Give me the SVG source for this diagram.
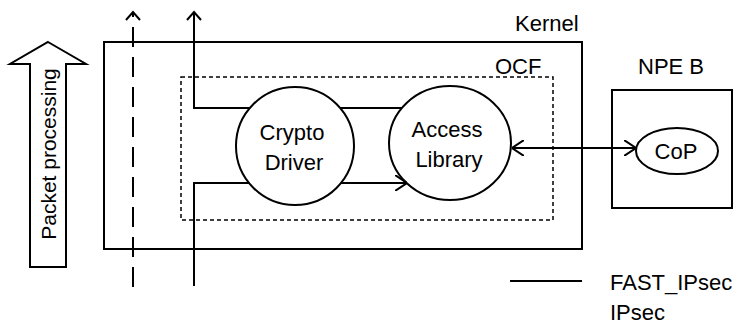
<svg xmlns="http://www.w3.org/2000/svg" width="734" height="326" viewBox="0 0 734 326">
<style>
.s{fill:none;stroke:#000;stroke-width:2}
.n{fill:#fff;stroke:#000;stroke-width:2}
.t{font-family:'Liberation Sans',Arial,sans-serif;font-size:22px;fill:#000}
.m{text-anchor:middle}
</style>
<defs>
<marker id="ah" viewBox="0 0 12 16" refX="12" refY="8" markerWidth="12" markerHeight="16" markerUnits="userSpaceOnUse" orient="auto-start-reverse">
<path d="M0,0 L12,8 L0,16" fill="none" stroke="#000" stroke-width="2"/>
</marker>
</defs>
<rect width="734" height="326" fill="#fff"/>
<g id="packet-processing">
<path d="M48,42 L86,64 L66,64 L66,267 L30,267 L30,64 L10,64 Z" class="n"/>
<text class="t m" transform="translate(56,154) rotate(-90)" style="font-size:21px">Packet processing</text>
</g>
<g id="kernel">
<rect x="104" y="42" width="478" height="207" class="n"/>
<text class="t" x="515" y="31">Kernel</text>
</g>
<g id="ocf">
<rect x="181" y="77" width="372" height="143" fill="none" stroke="#000" stroke-width="1.5" stroke-dasharray="4,3"/>
<text class="t" x="495" y="74">OCF</text>
</g>
<g id="npe-b">
<rect x="612" y="90" width="120" height="118" class="n"/>
<text class="t" x="638" y="74">NPE B</text>
</g>
<g id="crypto-driver">
<circle cx="295" cy="146" r="59" class="n"/>
<text class="t m" x="292" y="140">Crypto</text>
<text class="t m" x="294" y="170">Driver</text>
</g>
<g id="access-library">
<ellipse cx="450" cy="143" rx="61" ry="57" class="n"/>
<text class="t m" x="447" y="137">Access</text>
<text class="t m" x="449" y="167">Library</text>
</g>
<g id="cop">
<ellipse cx="677" cy="151" rx="41" ry="23" class="n"/>
<text class="t m" x="676" y="159">CoP</text>
</g>
<g id="connectors">
<line x1="133" y1="287" x2="133" y2="12" class="s" stroke-dasharray="20,10"/>
<path d="M126,20 L133,12 L140,20" class="s"/>
<path d="M194,286 L194,183 L249,183" class="s"/>
<line x1="341" y1="183" x2="407" y2="183" class="s" marker-end="url(#ah)"/>
<path d="M402,108 L340,108" class="s"/>
<path d="M250,108 L194,108 L194,12" class="s"/>
<path d="M187,20 L194,12 L201,20" class="s"/>
<line x1="512" y1="148" x2="636" y2="148" class="s" marker-start="url(#ah)" marker-end="url(#ah)"/>
</g>
<g id="legend">
<line x1="510" y1="281" x2="582" y2="281" class="s"/>
<text class="t" x="610" y="290">FAST_IPsec</text>
<text class="t" x="610" y="320">IPsec</text>
</g>
</svg>
